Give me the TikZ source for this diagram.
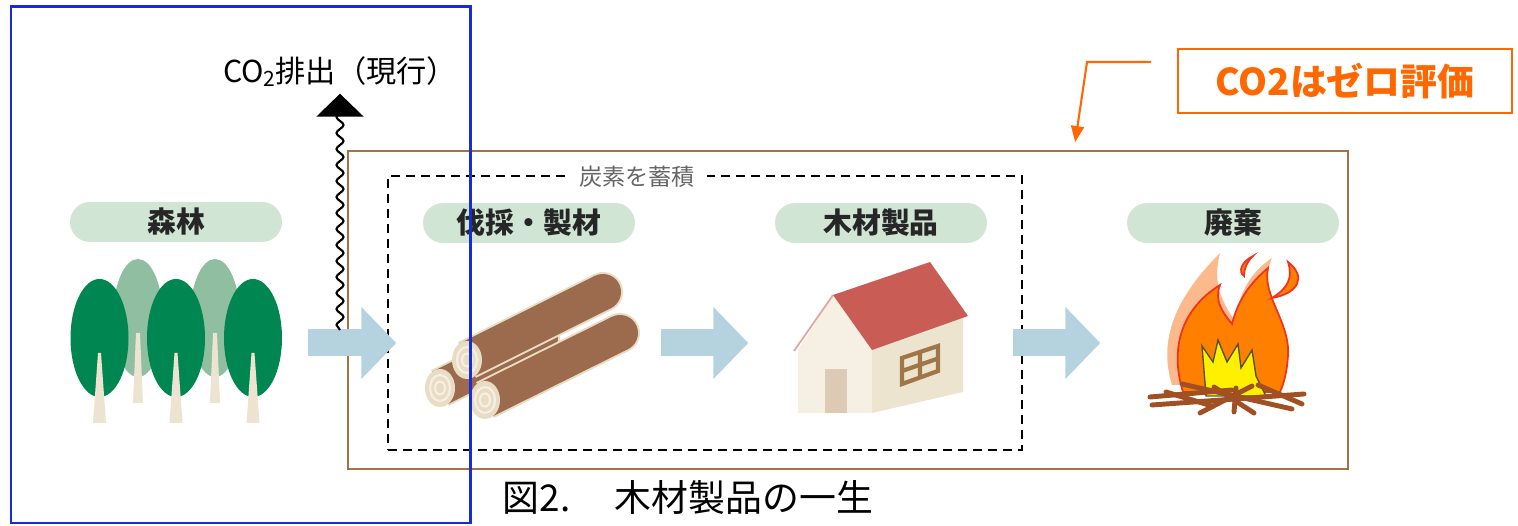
\documentclass[tikz,border=0pt]{standalone}
\usepackage{fontspec}
\newfontfamily\jp{Noto Sans CJK JP}
\usetikzlibrary{arrows.meta,decorations.pathmorphing}

\definecolor{frameblue}{RGB}{22,44,212}
\definecolor{boxbrown}{RGB}{164,114,70}
\definecolor{calloutorange}{RGB}{255,104,0}
\definecolor{pillgreen}{RGB}{208,229,212}
\definecolor{flowblue}{RGB}{181,211,223}
\definecolor{treedark}{RGB}{0,134,80}
\definecolor{treelight}{RGB}{143,190,160}
\definecolor{trunkcream}{RGB}{236,228,208}
\definecolor{logbrown}{RGB}{156,106,76}
\definecolor{logcream}{RGB}{232,220,197}
\definecolor{logring}{RGB}{246,239,226}
\definecolor{roofred}{RGB}{201,93,85}
\definecolor{wallfront}{RGB}{245,240,227}
\definecolor{wallside}{RGB}{236,228,206}
\definecolor{doorbeige}{RGB}{220,202,180}
\definecolor{framewood}{RGB}{160,118,72}
\definecolor{flamepeach}{RGB}{252,186,140}
\definecolor{flameorange}{RGB}{255,128,0}
\definecolor{flamered}{RGB}{240,50,30}
\definecolor{flameyellow}{RGB}{255,240,0}
\definecolor{stickbrown}{RGB}{160,80,34}

% one log: near (cut) end, far (rounded) end
\newcommand\woodlog[2]{%
  \draw[logcream, line width=4mm] (#1) -- (#2);
  \fill[logcream] (#2) circle (20);
  \draw[logbrown, line width=3.6mm] (#1) -- (#2);
  \fill[logbrown] (#2) circle (18);
  \fill[logcream] (#1) ellipse (15 and 19);
  \draw[logring, line width=0.6pt] (#1) ellipse (10 and 13);
  \draw[logring, line width=0.6pt] (#1) ellipse (5 and 6.5);
}

\begin{document}
\begin{tikzpicture}[x=0.1mm, y=-0.1mm,
  pill/.style={fill=pillgreen, rounded corners=2mm, minimum width=21.2mm,
    minimum height=4mm, inner sep=0pt, text=black!85,
    font=\jp\bfseries\fontsize{8.2}{9}\selectfont},
  stage/.style={minimum width=21.2mm, minimum height=14mm, inner sep=0pt},
  flow/.style={draw=flowblue, line width=2.7mm,
    -{Triangle[width=7mm,length=3.5mm]}, shorten <=2.5mm, shorten >=2.6mm},
  stick/.style={stickbrown, line width=1.4pt, line cap=round}]
\useasboundingbox (0,0) rectangle (1518,526);

%% ---- Frames ----
\node[draw=boxbrown, line width=0.6pt, minimum width=100mm, minimum height=31.8mm,
  inner sep=0pt] (neutral) at (848,310) {};
\node[draw=black, line width=0.6pt, dash pattern=on 0.9mm off 0.6mm,
  minimum width=63.4mm, minimum height=27.4mm, inner sep=0pt] (storage) at (705,313) {};
\node[fill=white, text=black!60, inner xsep=1.2mm, inner ysep=0.3mm,
  font=\jp\fontsize{6.6}{8}\selectfont] (storagelbl) at (637,177) {炭素を蓄積};

%% ---- Stages: label pills and picture slots ----
\node[pill] (forestlbl)   at (176,222)  {森林};
\node[pill] (sawmilllbl)  at (529,223)  {伐採・製材};
\node[pill] (productlbl)  at (881,223)  {木材製品};
\node[pill] (disposallbl) at (1233,223) {廃棄};

\node[stage] (forest)   at (176,343)  {};
\node[stage] (sawmill)  at (529,343)  {};
\node[stage] (product)  at (881,343)  {};
\node[stage] (disposal) at (1233,343) {};

%% ---- Forest ----
\foreach \x in {138,215} {
  \fill[treelight] (\x,318) ellipse (25 and 59);
  \fill[trunkcream] (\x-2,333) -- (\x+2,333) -- (\x+5,403) -- (\x-5,403) -- cycle;
}
\foreach \x in {99.5,176,253} {
  \fill[treedark] (\x,338) ellipse (29 and 59);
  \fill[trunkcream] (\x-1.5,353) -- (\x+1.5,353) -- (\x+6.5,423) -- (\x-6.5,423) -- cycle;
}

%% ---- Logs ----
\woodlog{440,388}{540,338}
\woodlog{467,360}{603,292}
\woodlog{485,400}{620,333}

%% ---- House ----
\fill[wallside] (872,348) -- (963,316) -- (963,392) -- (872,413) -- cycle;
\fill[wallfront] (798,413) -- (798,350) -- (833,295) -- (872,348) -- (872,413) -- cycle;
\draw[roofred!55, line width=0.5pt] (833,295) -- (794,351);
\fill[roofred] (833,295) -- (930,262) -- (968,316) -- (872,350) -- cycle;
\fill[doorbeige] (825,369) rectangle (847,413);
\draw[framewood, line width=1.2pt] (902,358) -- (938,346) -- (938,371) -- (902,384) -- cycle
  (920,352) -- (920,377.5) (902,371) -- (938,358.5);

%% ---- Fire ----
\fill[flamepeach] (1172,385) .. controls (1158,340) and (1175,298) .. (1220,253)
  .. controls (1212,285) and (1222,300) .. (1234,320) -- (1205,385) -- cycle;
\fill[flamepeach] (1236,318) .. controls (1240,288) and (1254,270) .. (1272,258)
  .. controls (1262,282) and (1266,302) .. (1278,322) -- cycle;
\filldraw[fill=flameorange, draw=flamered, line width=0.5pt]
  (1183,392) .. controls (1170,350) and (1180,310) .. (1220,285)
  .. controls (1214,300) and (1222,312) .. (1232,324)
  .. controls (1238,300) and (1250,283) .. (1268,268)
  .. controls (1262,296) and (1290,322) .. (1288,355)
  .. controls (1287,372) and (1284,383) .. (1280,392) -- cycle;
\filldraw[fill=flameorange, draw=flamered, line width=0.5pt]
  (1288,262) .. controls (1306,276) and (1300,293) .. (1272,298)
  .. controls (1288,288) and (1293,278) .. (1288,262) -- cycle;
\filldraw[fill=flameorange, draw=flamered, line width=0.5pt]
  (1253,256) .. controls (1241,262) and (1238,272) .. (1244,276)
  .. controls (1244,268) and (1247,262) .. (1253,256) -- cycle;
\filldraw[fill=flameyellow, draw=black!50!olive, line width=0.4pt]
  (1206,396) -- (1202,346) -- (1213,362) -- (1218,340) -- (1227,362) -- (1238,344)
  -- (1241,368) -- (1252,350) -- (1256,376) -- (1266,396) -- cycle;
\draw[stick] (1152,405) -- (1304,394);
\draw[stick] (1150,397) -- (1232,390);
\draw[stick] (1182,384) -- (1292,409);
\draw[stick] (1200,413) -- (1252,386);
\draw[stick] (1254,413) -- (1214,387);
\draw[stick] (1258,385) -- (1302,404);
\draw[stick] (1166,392) -- (1212,406);
\draw[stick] (1234,412) -- (1236,388);

%% ---- Flow arrows ----
\draw[flow] (forest.east) -- (sawmill.west);
\draw[flow] (sawmill.east) -- (product.west);
\draw[flow] (product.east) -- (disposal.west);

%% ---- CO2 released (current rule) ----
\node[inner sep=0.6mm, font=\jp\fontsize{8.6}{10}\selectfont] (emit) at (340,72)
  {CO{\raisebox{-0.25ex}{\fontsize{6}{6}\selectfont 2}}排出（現行）};
\coordinate (vent) at (340,330);
\draw[line width=0.6pt, decorate,
  decoration={snake, amplitude=0.35mm, segment length=1.6mm, post length=1.5mm},
  -{Triangle[width=4.7mm,length=2.3mm]}] (vent) -- (emit.south);

%% ---- Zero-rated callout ----
\node[draw=calloutorange, line width=0.6pt, text=calloutorange, minimum width=33.4mm,
  minimum height=6.4mm, inner sep=0pt, font=\jp\bfseries\fontsize{10.5}{12}\selectfont]
  (zero) at (1345,81) {CO2はゼロ評価};
\coordinate (calloutstart) at (1151,62);
\coordinate (calloutbend) at (1087,62);
\coordinate (callouttip) at (1074,0);
\draw[calloutorange, line width=0.6pt, -{Triangle[width=1.3mm,length=1.6mm]},
  shorten >=0.8mm] (calloutstart) -- (calloutbend) -- (neutral.north -| callouttip);

%% ---- Current accounting boundary ----
\node[draw=frameblue, line width=0.85pt, minimum width=45.9mm, minimum height=51.6mm,
  inner sep=0pt] (current) at (240.5,265) {};

%% ---- Caption ----
\node[font=\jp\fontsize{10.5}{12}\selectfont] (caption) at (688,498)
  {図2.\hspace{1.2em}木材製品の一生};
\end{tikzpicture}
\end{document}
